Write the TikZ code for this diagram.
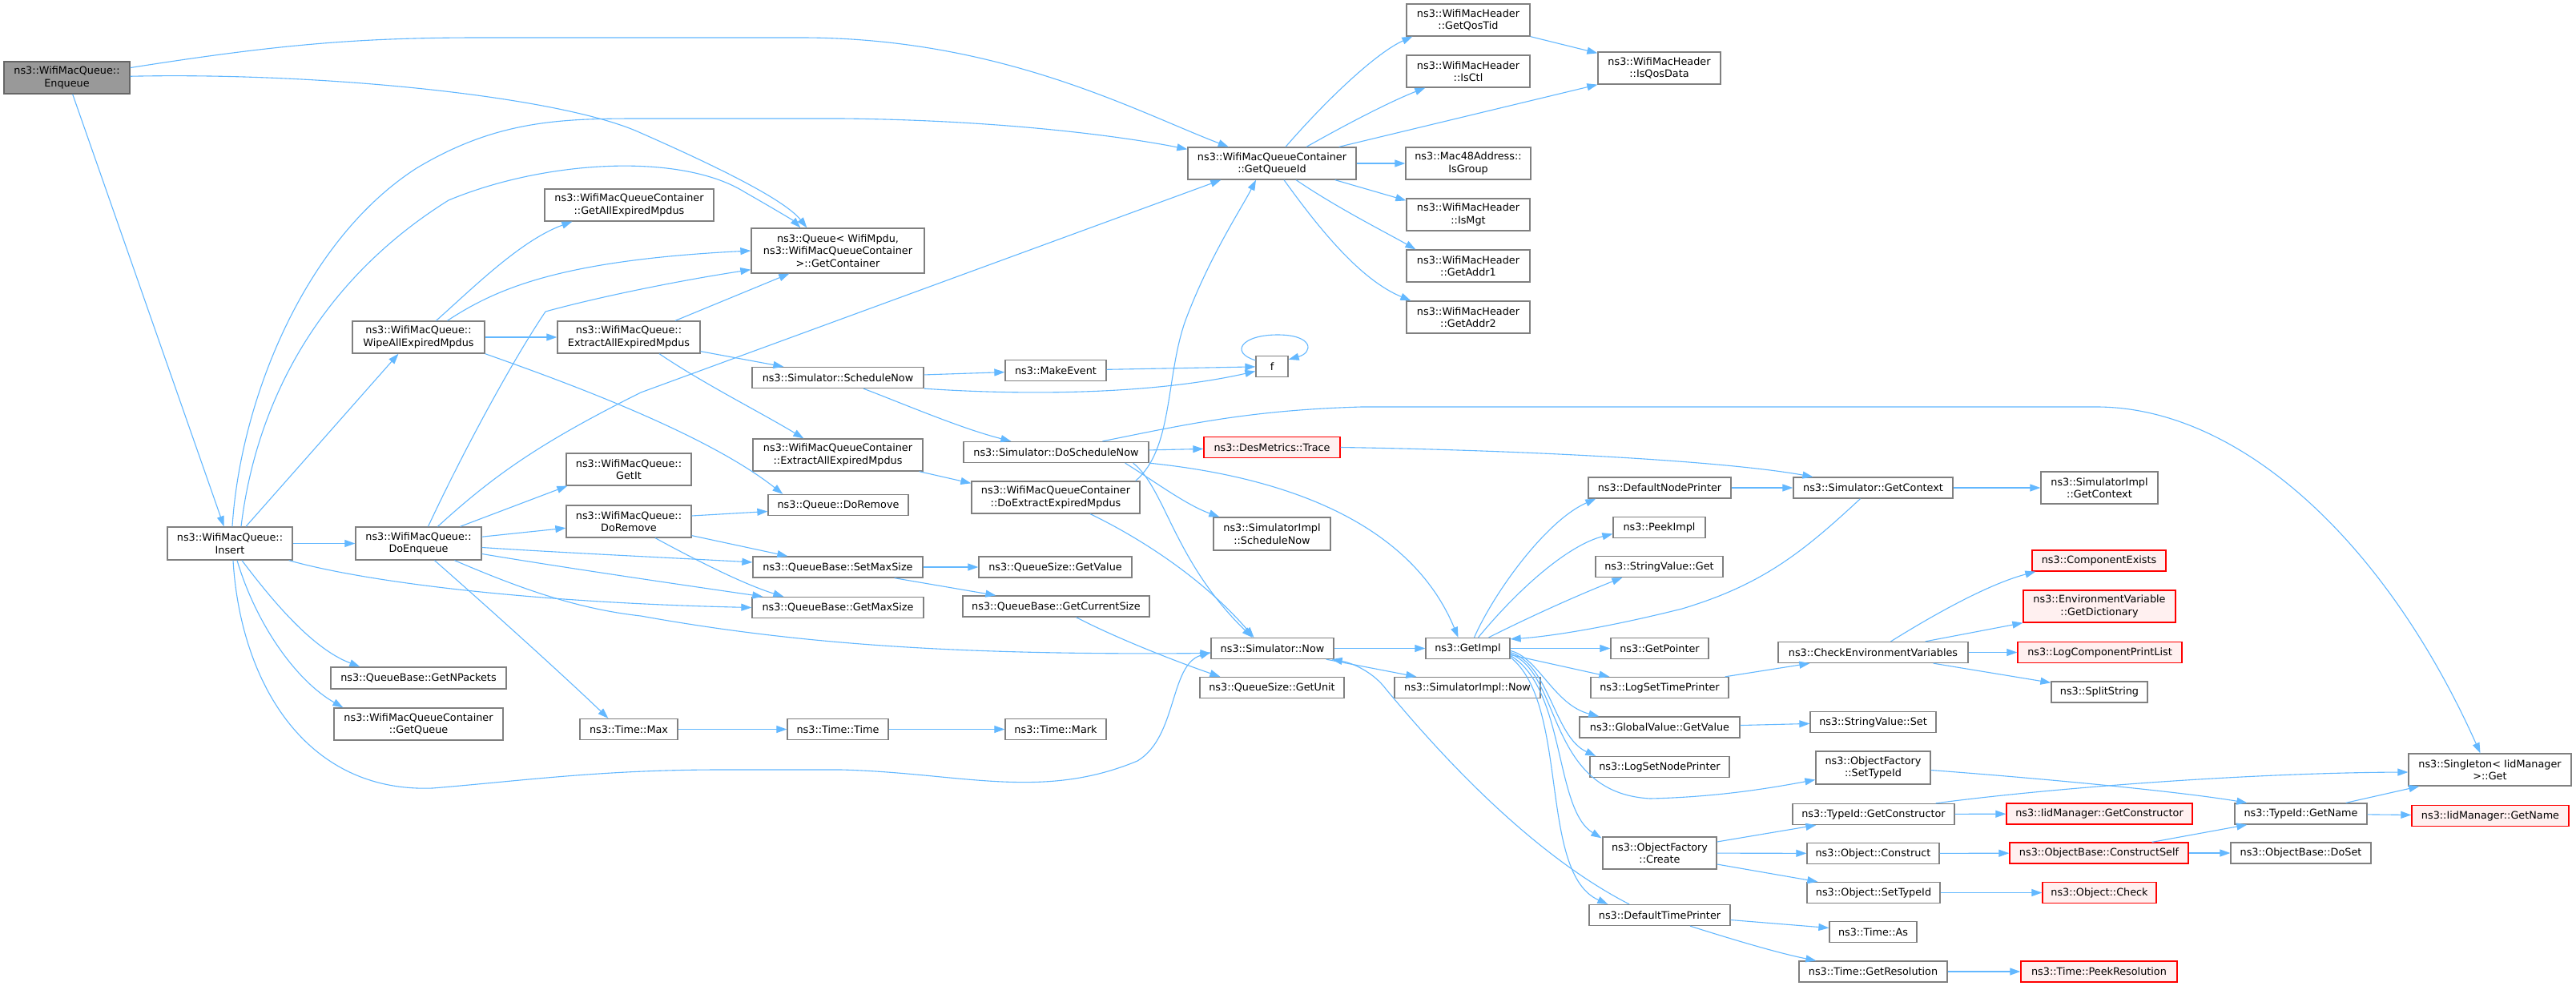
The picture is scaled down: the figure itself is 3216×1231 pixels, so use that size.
\documentclass[tikz,border=0pt]{standalone}
\usepackage{fontspec}
\setmainfont{DejaVu Sans}
\usetikzlibrary{arrows.meta,calc}
\definecolor{edgec}{HTML}{63B8FF}
\definecolor{bordc}{HTML}{808080}
\definecolor{rootfill}{HTML}{999999}
\definecolor{redfill}{HTML}{FFF0F0}
\newcommand\dxfont{\fontsize{12.8pt}{15.5pt}\selectfont}
\tikzset{
  box/.style={draw=bordc, fill=white, line width=1.3pt, inner sep=0pt, align=center, font=\dxfont},
  rootbox/.style={box, draw=bordc!80!black, fill=rootfill},
  redbox/.style={box, draw=red, fill=redfill},
  conn/.style={draw=edgec, line width=1.1pt, -{Triangle[length=13pt,width=9pt]}}
}
\begin{document}
\begin{tikzpicture}[x=1pt,y=-1pt]
\fill[white] (0,0) rectangle (3216,1231);
\useasboundingbox (0,0) rectangle (3216,1231);
% column 1-2
\node[rootbox, minimum width=157pt, minimum height=40pt] (enq) at (83.5,97) {ns3::WifiMacQueue::\\Enqueue};
\node[box, minimum width=156pt, minimum height=41pt] (ins) at (287,678.5) {ns3::WifiMacQueue::\\Insert};
% column 3
\node[box, minimum width=157pt, minimum height=41pt] (doenq) at (522.5,678.5) {ns3::WifiMacQueue::\\DoEnqueue};
\node[box, minimum width=165pt, minimum height=40pt] (wipe) at (522.5,421) {ns3::WifiMacQueue::\\WipeAllExpiredMpdus};
\node[box, minimum width=219pt, minimum height=27pt] (getnp) at (522.5,846.5) {ns3::QueueBase::GetNPackets};
\node[box, minimum width=211pt, minimum height=40pt] (getqueue) at (522.5,904) {ns3::WifiMacQueueContainer\\::GetQueue};
% column 4
\node[box, minimum width=211pt, minimum height=40pt] (getall) at (785.5,256) {ns3::WifiMacQueueContainer\\::GetAllExpiredMpdus};
\node[box, minimum width=178pt, minimum height=40pt] (extract) at (785,421) {ns3::WifiMacQueue::\\ExtractAllExpiredMpdus};
\node[box, minimum width=156pt, minimum height=40pt] (getit) at (785,586) {ns3::WifiMacQueue::\\GetIt};
\node[box, minimum width=156pt, minimum height=40pt] (doremove) at (785,651) {ns3::WifiMacQueue::\\DoRemove};
\node[box, minimum width=122pt, minimum height=26pt] (tmax) at (785,910.5) {ns3::Time::Max};
% column 5
\node[box, minimum width=216pt, minimum height=56pt] (getcont) at (1046,313) {ns3::Queue< WifiMpdu,\\ ns3::WifiMacQueueContainer\\ >::GetContainer};
\node[box, minimum width=214pt, minimum height=26pt] (schednow) at (1046,471.5) {ns3::Simulator::ScheduleNow};
\node[box, minimum width=212pt, minimum height=40pt] (cextract) at (1046,568) {ns3::WifiMacQueueContainer\\::ExtractAllExpiredMpdus};
\node[box, minimum width=175pt, minimum height=26pt] (qdoremove) at (1046.5,630.5) {ns3::Queue::DoRemove};
\node[box, minimum width=212pt, minimum height=26pt] (setmax) at (1046,708) {ns3::QueueBase::SetMaxSize};
\node[box, minimum width=214pt, minimum height=26pt] (getmax) at (1046,758.5) {ns3::QueueBase::GetMaxSize};
\node[box, minimum width=126pt, minimum height=26pt] (ttime) at (1046,910.5) {ns3::Time::Time};
% column 6
\node[box, minimum width=126pt, minimum height=26pt] (makeev) at (1318,462.5) {ns3::MakeEvent};
\node[box, minimum width=231pt, minimum height=26pt] (doschednow) at (1318.5,564.5) {ns3::Simulator::DoScheduleNow};
\node[box, minimum width=210pt, minimum height=40pt] (doextract) at (1318,621) {ns3::WifiMacQueueContainer\\::DoExtractExpiredMpdus};
\node[box, minimum width=191pt, minimum height=26pt] (qsgetvalue) at (1317.5,708) {ns3::QueueSize::GetValue};
\node[box, minimum width=233pt, minimum height=26pt] (getcursize) at (1318.5,757) {ns3::QueueBase::GetCurrentSize};
\node[box, minimum width=126pt, minimum height=26pt] (tmark) at (1318,910.5) {ns3::Time::Mark};
% column 7
\node[box, minimum width=210pt, minimum height=40pt] (getqid) at (1588,204) {ns3::WifiMacQueueContainer\\::GetQueueId};
\node[box, minimum width=40pt, minimum height=26pt] (f) at (1588,457.5) {f};
\node[redbox, minimum width=170pt, minimum height=26pt] (trace) at (1588,558.5) {ns3::DesMetrics::Trace};
\node[box, minimum width=146pt, minimum height=41pt] (siimplsched) at (1588,666.5) {ns3::SimulatorImpl\\::ScheduleNow};
\node[box, minimum width=153pt, minimum height=26pt] (simnow) at (1588.5,809.5) {ns3::Simulator::Now};
\node[box, minimum width=180pt, minimum height=26pt] (getunit) at (1588,858.5) {ns3::QueueSize::GetUnit};
% column 8
\node[box, minimum width=154pt, minimum height=40pt] (getqostid) at (1833,25) {ns3::WifiMacHeader\\::GetQosTid};
\node[box, minimum width=154pt, minimum height=40pt] (isctl) at (1833,89) {ns3::WifiMacHeader\\::IsCtl};
\node[box, minimum width=156pt, minimum height=40pt] (isgroup) at (1833,204) {ns3::Mac48Address::\\IsGroup};
\node[box, minimum width=154pt, minimum height=40pt] (ismgt) at (1833,268) {ns3::WifiMacHeader\\::IsMgt};
\node[box, minimum width=154pt, minimum height=40pt] (getaddr1) at (1833,332) {ns3::WifiMacHeader\\::GetAddr1};
\node[box, minimum width=154pt, minimum height=40pt] (getaddr2) at (1833,396) {ns3::WifiMacHeader\\::GetAddr2};
\node[box, minimum width=105pt, minimum height=26pt] (getimpl) at (1832.5,809.5) {ns3::GetImpl};
\node[box, minimum width=182pt, minimum height=26pt] (simimplnow) at (1832,858.5) {ns3::SimulatorImpl::Now};
% column 9
\node[box, minimum width=153pt, minimum height=40pt] (isqosdata) at (2071.5,85) {ns3::WifiMacHeader\\::IsQosData};
\node[box, minimum width=178pt, minimum height=26pt] (defnode) at (2072,609) {ns3::DefaultNodePrinter};
\node[box, minimum width=115pt, minimum height=26pt] (peekimpl) at (2071.5,658.5) {ns3::PeekImpl};
\node[box, minimum width=159pt, minimum height=26pt] (svget) at (2071.5,707.5) {ns3::StringValue::Get};
\node[box, minimum width=122pt, minimum height=26pt] (getptr) at (2072,809.5) {ns3::GetPointer};
\node[box, minimum width=172pt, minimum height=26pt] (logstp) at (2072,858.5) {ns3::LogSetTimePrinter};
\node[box, minimum width=200pt, minimum height=26pt] (gvget) at (2072,908) {ns3::GlobalValue::GetValue};
\node[box, minimum width=174pt, minimum height=26pt] (logsnp) at (2072,957.5) {ns3::LogSetNodePrinter};
\node[box, minimum width=142pt, minimum height=40pt] (ofcreate) at (2072,1065) {ns3::ObjectFactory\\::Create};
\node[box, minimum width=176pt, minimum height=26pt] (deftime) at (2072,1142.5) {ns3::DefaultTimePrinter};
% column 10
\node[box, minimum width=199pt, minimum height=26pt] (getctx) at (2338.5,609) {ns3::Simulator::GetContext};
\node[box, minimum width=237pt, minimum height=26pt] (checkenv) at (2338.5,814.5) {ns3::CheckEnvironmentVariables};
\node[box, minimum width=157pt, minimum height=26pt] (svset) at (2338.5,901.5) {ns3::StringValue::Set};
\node[box, minimum width=143pt, minimum height=41pt] (ofsettid) at (2338.5,958.5) {ns3::ObjectFactory\\::SetTypeId};
\node[box, minimum width=202pt, minimum height=26pt] (tidgetctor) at (2339,1016.5) {ns3::TypeId::GetConstructor};
\node[box, minimum width=165pt, minimum height=26pt] (objconstruct) at (2338.5,1065.5) {ns3::Object::Construct};
\node[box, minimum width=166pt, minimum height=26pt] (objsettid) at (2339,1114.5) {ns3::Object::SetTypeId};
\node[box, minimum width=109pt, minimum height=26pt] (timeas) at (2338.5,1163.5) {ns3::Time::As};
\node[box, minimum width=185pt, minimum height=26pt] (getres) at (2338.5,1213) {ns3::Time::GetResolution};
% column 11
\node[box, minimum width=146pt, minimum height=40pt] (simimplctx) at (2621,609) {ns3::SimulatorImpl\\::GetContext};
\node[redbox, minimum width=167pt, minimum height=26pt] (compexists) at (2620.5,700) {ns3::ComponentExists};
\node[redbox, minimum width=190pt, minimum height=40pt] (getdict) at (2621,757) {ns3::EnvironmentVariable\\::GetDictionary};
\node[redbox, minimum width=205pt, minimum height=26pt] (logcpl) at (2621.5,814.5) {ns3::LogComponentPrintList};
\node[box, minimum width=120pt, minimum height=26pt] (splitstr) at (2621,864) {ns3::SplitString};
\node[redbox, minimum width=232pt, minimum height=26pt] (iidgetctor) at (2621,1016) {ns3::IidManager::GetConstructor};
\node[redbox, minimum width=223pt, minimum height=26pt] (constructself) at (2620.5,1065) {ns3::ObjectBase::ConstructSelf};
\node[redbox, minimum width=142pt, minimum height=26pt] (objcheck) at (2621,1114.5) {ns3::Object::Check};
\node[redbox, minimum width=195pt, minimum height=26pt] (peekres) at (2620.5,1213) {ns3::Time::PeekResolution};
% column 12-13
\node[box, minimum width=165pt, minimum height=26pt] (tidgetname) at (2872.5,1016) {ns3::TypeId::GetName};
\node[box, minimum width=175pt, minimum height=26pt] (dosset) at (2872.5,1065) {ns3::ObjectBase::DoSet};
\node[box, minimum width=203pt, minimum height=40pt] (singleton) at (3108.5,961) {ns3::Singleton< IidManager\\ >::Get};
\node[redbox, minimum width=196pt, minimum height=26pt] (iidgetname) at (3109,1018.5) {ns3::IidManager::GetName};

% ---------------- edges ----------------
% Enqueue
\draw[conn] (enq) .. controls (350,55) and (450,47) .. (600,47) -- (1000,47) .. controls (1250,47) and (1420,140) .. (getqid);
\draw[conn] (enq) .. controls (400,90) and (700,120) .. (800,166) .. controls (900,210) and (980,250) .. ($(getcont.north west)+(70,0)$);
\draw[conn] (enq) -- (ins);
% Insert
\draw[conn] ($(ins.north)+(3,0)$) .. controls (300,500) and (380,300) .. (520,210) .. controls (620,150) and (700,148) .. (800,148) -- (1050,148) .. controls (1250,150) and (1400,170) .. ($(getqid.north west)+(0,3)$);
\draw[conn] ($(ins.north)+(14,0)$) .. controls (320,500) and (400,350) .. (560,250) .. controls (680,200) and (850,190) .. (930,240) .. controls (965,260) and (990,275) .. ($(getcont.north west)+(62,0)$);
\draw[conn] ($(ins.north)+(20,0)$) -- ($(wipe.south)+(-25,0)$);
\draw[conn] (ins) -- (doenq);
\draw[conn] ($(ins.south)+(15,0)$) .. controls (340,750) and (390,810) .. ($(getnp.north west)+(37,0)$);
\draw[conn] ($(ins.south)+(9,0)$) .. controls (320,780) and (370,850) .. ($(getqueue.north west)+(12,0)$);
\draw[conn] ($(ins.south)+(4,0)$) .. controls (300,850) and (380,990) .. (540,984) .. controls (650,975) and (750,961) .. (900,961) -- (1050,961) .. controls (1200,965) and (1300,1000) .. (1420,950) .. controls (1470,920) and (1460,830) .. ($(simnow.west)+(0,5)$);
\draw[conn] ($(ins.south east)+(-5,0)$) .. controls (450,725) and (650,752) .. (getmax.west);
% DoEnqueue
\draw[conn] (doenq) -- (doremove);
\draw[conn] ($(doenq.north)+(52,0)$) -- ($(getit.south west)+(2,0)$);
\draw[conn] ($(doenq.east)+(0,5)$) .. controls (700,690) and (850,697) .. ($(setmax.west)+(0,-6)$);
\draw[conn] ($(doenq.east)+(0,13)$) .. controls (700,708) and (850,730) .. ($(getmax.north west)+(14,0)$);
\draw[conn] ($(doenq.south)+(45,0)$) .. controls (650,735) and (720,760) .. (800,769) .. controls (1000,805) and (1200,818) .. ($(simnow.west)+(0,6)$);
\draw[conn] ($(doenq.south)+(20,0)$) .. controls (600,750) and (700,840) .. ($(tmax.north west)+(36,0)$);
\draw[conn] ($(doenq.north)+(12,0)$) .. controls (580,560) and (640,450) .. (681,389) .. controls (750,370) and (850,350) .. ($(getcont.south west)+(0,-5)$);
\draw[conn] ($(doenq.north)+(24,0)$) .. controls (620,590) and (680,550) .. (800,490) -- ($(getqid.south west)+(42,0)$);
% Wipe
\draw[conn] (wipe) -- (extract);
\draw[conn] ($(wipe.north)+(22,0)$) .. controls (590,360) and (650,300) .. ($(getall.south west)+(35,0)$);
\draw[conn] ($(wipe.north)+(36,0)$) .. controls (620,360) and (700,325) .. (getcont.west);
\draw[conn] (wipe.south east) .. controls (700,475) and (880,540) .. ($(qdoremove.north west)+(19,0)$);
% Extract
\draw[conn] ($(extract.north)+(58,0)$) -- ($(getcont.south west)+(48,0)$);
\draw[conn] ($(extract.south east)+(0,-3)$) -- ($(schednow.north west)+(40,0)$);
\draw[conn] ($(extract.south)+(38,0)$) .. controls (880,480) and (950,515) .. ($(cextract.north west)+(64,0)$);
% DoRemove
\draw[conn] ($(doremove.east)+(0,-7)$) -- ($(qdoremove.west)+(0,8)$);
\draw[conn] ($(doremove.south east)+(0,-3)$) -- ($(setmax.north west)+(44,0)$);
\draw[conn] ($(doremove.south)+(33,0)$) .. controls (870,700) and (930,730) .. ($(getmax.north west)+(40,0)$);
% Time chain
\draw[conn] (tmax) -- (ttime);
\draw[conn] (ttime) -- (tmark);
% ScheduleNow
\draw[conn] (schednow) -- (makeev);
\draw[conn] (schednow.south east) .. controls (1300,495) and (1450,490) .. ($(f.west)+(0,6)$);
\draw[conn] (makeev) -- (f);
\draw[conn] ($(f.north west)+(0,6)$) .. controls (1535,440) and (1550,418) .. (1595,418) .. controls (1640,418) and (1640,440) .. ($(f.north east)+(0,5)$);
\draw[conn] ($(schednow.south)+(32,0)$) .. controls (1130,505) and (1200,535) .. ($(doschednow.north west)+(60,0)$);
% Container extract
\draw[conn] ($(cextract.south east)+(-5,0)$) -- ($(doextract.north west)+(0,3)$);
\draw[conn] ($(doextract.north east)+(-6,0)$) .. controls (1465,560) and (1455,470) .. (1480,400) .. controls (1510,320) and (1550,260) .. ($(getqid.south)+(-20,0)$);
\draw[conn] ($(doextract.south)+(43,0)$) .. controls (1420,670) and (1500,720) .. ($(simnow.north)+(-23,0)$);
% SetMaxSize etc
\draw[conn] (setmax) -- (qsgetvalue);
\draw[conn] ($(setmax.south east)+(-36,0)$) -- ($(getcursize.north west)+(42,0)$);
\draw[conn] ($(getcursize.south)+(25,0)$) .. controls (1400,800) and (1480,830) .. ($(getunit.north west)+(26,0)$);
% DoScheduleNow
\draw[conn] (doschednow) -- (trace);
\draw[conn] ($(doschednow.north)+(58,0)$) .. controls (1480,530) and (1560,512) .. (1700,508) -- (2620,508) .. controls (2800,510) and (2980,680) .. ($(singleton.north)+(-12,0)$);
\draw[conn] ($(doschednow.south east)+(-30,0)$) .. controls (1440,600) and (1480,630) .. ($(siimplsched.north west)+(8,0)$);
\draw[conn] ($(doschednow.south east)+(-20,0)$) .. controls (1455,610) and (1465,700) .. ($(simnow.north)+(-25,0)$);
\draw[conn] (doschednow.south east) .. controls (1600,595) and (1760,650) .. ($(getimpl.north)+(-12,0)$);
% Trace / context
\draw[conn] (trace.east) .. controls (1900,562) and (2150,575) .. ($(getctx.north west)+(25,0)$);
\draw[conn] (defnode) -- (getctx);
\draw[conn] (getctx) -- (simimplctx);
\draw[conn] ($(getctx.south)+(-16,0)$) .. controls (2250,690) and (2200,730) .. (2100,760) .. controls (2000,785) and (1930,795) .. ($(getimpl.north east)+(0,2)$);
% Simulator::Now
\draw[conn] (simnow) -- (getimpl);
\draw[conn] ($(simnow.south east)+(-10,0)$) -- ($(simimplnow.north west)+(28,0)$);
\draw[conn] ($(deftime.north)+(-38,0)$) .. controls (1900,1060) and (1780,920) .. (1730,860) .. controls (1715,840) and (1690,828) .. ($(simnow.south east)+(-3,0)$);
% GetQueueId
\draw[conn] ($(getqid.north)+(17,0)$) .. controls (1660,120) and (1720,65) .. ($(getqostid.south west)+(8,0)$);
\draw[conn] ($(getqid.north)+(43,0)$) .. controls (1690,150) and (1740,125) .. ($(isctl.south west)+(24,0)$);
\draw[conn] ($(getqid.north east)+(-22,0)$) -- (isqosdata.south west);
\draw[conn] (getqid) -- (isgroup);
\draw[conn] ($(getqid.south east)+(-27,0)$) -- ($(ismgt.north west)+(0,3)$);
\draw[conn] ($(getqid.south)+(30,0)$) .. controls (1670,260) and (1730,290) .. ($(getaddr1.north west)+(12,0)$);
\draw[conn] ($(getqid.south)+(15,0)$) .. controls (1650,290) and (1700,350) .. ($(getaddr2.north west)+(6,0)$);
\draw[conn] (getqostid.south east) -- ($(isqosdata.north west)+(0,2)$);
% GetImpl
\draw[conn] ($(getimpl.north)+(8,0)$) .. controls (1865,740) and (1930,650) .. ($(defnode.south west)+(10,0)$);
\draw[conn] ($(getimpl.north)+(13,0)$) .. controls (1900,730) and (1960,680) .. ($(peekimpl.west)+(0,8)$);
\draw[conn] ($(getimpl.north)+(26,0)$) .. controls (1930,760) and (1990,735) .. ($(svget.south west)+(34,0)$);
\draw[conn] (getimpl) -- (getptr);
\draw[conn] ($(getimpl.east)+(0,8)$) -- ($(logstp.north west)+(24,0)$);
\draw[conn] ($(getimpl.east)+(0,3)$) .. controls (1920,820) and (1940,880) .. ($(gvget.north west)+(25,0)$);
\draw[conn] ($(getimpl.east)+(0,5)$) .. controls (1935,830) and (1940,920) .. ($(logsnp.north west)+(8,0)$);
\draw[conn] ($(getimpl.east)+(0,7)$) .. controls (1950,840) and (1930,990) .. (2060,997) .. controls (2150,995) and (2220,982) .. ($(ofsettid.west)+(0,15)$);
\draw[conn] ($(getimpl.east)+(0,9)$) .. controls (1955,860) and (1940,1010) .. ($(ofcreate.north west)+(-1,2)$);
\draw[conn] ($(getimpl.east)+(0,11)$) .. controls (1960,880) and (1920,1090) .. ($(deftime.north west)+(24,0)$);
% column 9 -> 10
\draw[conn] ($(logstp.north east)+(-5,0)$) -- ($(checkenv.south west)+(40,0)$);
\draw[conn] (gvget) -- (svset);
\draw[conn] ($(ofcreate.east)+(0,-14)$) -- ($(tidgetctor.south west)+(30,0)$);
\draw[conn] (ofcreate) -- (objconstruct);
\draw[conn] ($(ofcreate.east)+(0,14)$) -- ($(objsettid.north west)+(14,0)$);
\draw[conn] ($(deftime.east)+(0,6)$) -- ($(timeas.west)+(0,-5)$);
\draw[conn] ($(deftime.south)+(38,0)$) .. controls (2160,1172) and (2220,1190) .. ($(getres.north west)+(22,0)$);
% column 10 -> 11+
\draw[conn] ($(checkenv.north)+(22,0)$) .. controls (2410,770) and (2480,730) .. ($(compexists.south west)+(5,0)$);
\draw[conn] ($(checkenv.north east)+(-54,0)$) -- (getdict.south west);
\draw[conn] (checkenv) -- (logcpl);
\draw[conn] ($(checkenv.south east)+(-44,0)$) -- ($(splitstr.north west)+(0,2)$);
\draw[conn] ($(ofsettid.east)+(0,3)$) .. controls (2550,972) and (2720,988) .. ($(tidgetname.north west)+(16,0)$);
\draw[conn] ($(tidgetctor.north east)+(-24,0)$) .. controls (2550,985) and (2800,965) .. ($(singleton.west)+(0,3)$);
\draw[conn] (tidgetctor) -- (iidgetctor);
\draw[conn] (objconstruct) -- (constructself);
\draw[conn] ($(constructself.north east)+(-46,0)$) -- ($(tidgetname.south west)+(16,0)$);
\draw[conn] (constructself) -- (dosset);
\draw[conn] (objsettid) -- (objcheck);
\draw[conn] (getres) -- (peekres);
\draw[conn] ($(tidgetname.north east)+(-27,0)$) -- ($(singleton.south west)+(14,0)$);
\draw[conn] (tidgetname) -- (iidgetname);
\end{tikzpicture}
\end{document}
